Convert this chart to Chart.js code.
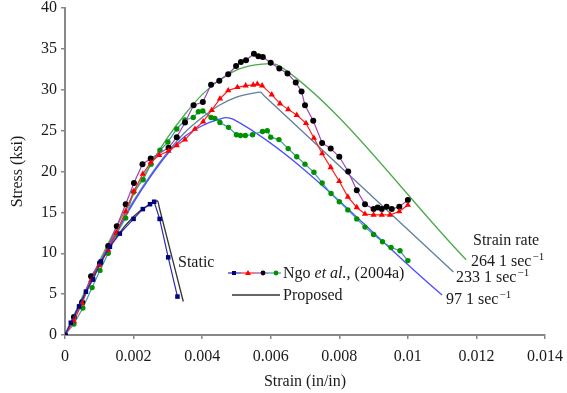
<!DOCTYPE html>
<html><head><meta charset="utf-8">
<script src="https://cdn.jsdelivr.net/npm/chart.js@4/dist/chart.umd.min.js"></script>
<style>html,body{margin:0;padding:0;background:#fff}canvas{display:block}</style>
</head><body>
<canvas id="c" width="567" height="393"></canvas>
<script>
// ---- tick labels ----
const xTickValues = [0, 0.002, 0.004, 0.006, 0.008, 0.01, 0.012, 0.014];
const xTickLabels = ['0', '0.002', '0.004', '0.006', '0.008', '0.01', '0.012', '0.014'];
const yTickValues = [0, 5, 10, 15, 20, 25, 30, 35, 40];
const yTickLabels = ['0', '5', '10', '15', '20', '25', '30', '35', '40'];

// ---- Ngo et al. (2004a) experimental ----
const staticExpStrain = [0,0.00017,0.00041,0.00061,0.00082,0.00105,0.00131,0.0016,0.002,0.00227,0.00248,0.0026,0.00276,0.00301,0.00328];
const staticExpStress = [0,1.5,3.5,5.3,6.8,9.0,10.8,12.4,14.2,15.4,16.0,16.3,14.2,9.5,4.7];

const exp97Strain = [0,0.00026,0.00052,0.00079,0.00102,0.00126,0.00151,0.00177,0.002,0.00228,0.00251,0.00277,0.003,0.00326,0.0035,0.00374,0.00389,0.00402,0.00426,0.00437,0.00452,0.00477,0.005,0.00512,0.00526,0.00547,0.00576,0.0059,0.006,0.00624,0.00651,0.00676,0.007,0.00726,0.0075,0.00776,0.008,0.00825,0.00851,0.00875,0.009,0.00926,0.00951,0.00977,0.01];
const exp97Stress = [0,1.35,3.3,5.8,7.9,10.0,12.4,14.3,17.5,19.0,20.9,22.6,23.6,25.2,26.3,26.6,27.3,27.4,26.6,26.5,26.0,25.4,24.5,24.4,24.4,24.5,24.9,25.0,24.2,23.9,22.8,21.8,20.9,19.9,18.6,17.3,16.3,15.3,14.2,13.2,12.3,11.4,10.7,10.3,9.1];

const exp233Strain = [0,0.00026,0.0005,0.00077,0.001,0.00126,0.0015,0.00177,0.00201,0.00227,0.0025,0.00275,0.00302,0.00326,0.0035,0.00379,0.00403,0.00428,0.00452,0.00476,0.00503,0.00527,0.00549,0.00561,0.00575,0.00603,0.00627,0.00651,0.00676,0.00703,0.00726,0.0075,0.00775,0.008,0.00825,0.00851,0.00875,0.009,0.00924,0.00948,0.00975,0.01];
const exp233Stress = [0,1.7,3.9,6.7,8.5,10.4,12.5,15.1,17.6,19.7,21.1,22.0,22.5,23.2,23.9,25.2,26.1,27.5,28.9,29.9,30.3,30.5,30.6,30.7,30.5,29.4,28.3,27.6,26.9,25.9,24.1,22.2,20.5,18.8,16.9,15.6,14.8,14.7,14.7,14.7,15.1,15.9];

const exp264Strain = [0,0.00026,0.0005,0.00076,0.00102,0.00126,0.00151,0.00177,0.00201,0.00226,0.0025,0.00302,0.00326,0.0035,0.00375,0.00402,0.00426,0.0045,0.00476,0.00499,0.00513,0.00528,0.00551,0.00564,0.00577,0.006,0.00625,0.00649,0.00673,0.0069,0.007,0.00724,0.0075,0.00775,0.008,0.00826,0.00851,0.00875,0.009,0.00912,0.00924,0.00938,0.00953,0.00975,0.01];
const exp264Stress = [0,2.2,4.0,7.2,8.8,10.9,13.3,16.0,18.6,20.9,21.6,22.9,24.2,26.0,28.1,28.5,30.6,31.1,31.9,32.9,33.4,33.6,34.4,34.1,34.0,33.3,32.6,32.0,30.9,29.8,28.1,26.2,23.5,22.8,21.8,20.0,17.7,16.0,15.4,15.6,15.4,15.7,15.4,15.7,16.5];

// ---- Proposed model ----
const propStaticStrain = [0,0.0005,0.001,0.0015,0.002,0.0024,0.0027,0.00275,0.00345];
const propStaticStress = [0,4.3,8.6,12.0,14.5,15.8,16.4,15.6,4.1];

const prop97Strain = [0,0.0005,0.001,0.0015,0.002,0.0025,0.003,0.0035,0.004,0.0045,0.0047,0.0049,0.011];
const prop97Stress = [0,4.3,8.5,12.5,16.2,19.4,22.2,24.3,25.6,26.4,26.6,26.4,4.9];

const prop233Strain = [0,0.0005,0.001,0.0015,0.002,0.0025,0.003,0.0035,0.004,0.0045,0.005,0.0055,0.0057,0.0058,0.01133];
const prop233Stress = [0,4.4,8.7,12.7,16.4,19.6,22.4,24.8,26.6,28.1,29.1,29.6,29.7,29.3,7.7];

const prop264Strain = [0,0.0005,0.001,0.0015,0.002,0.0025,0.003,0.0035,0.004,0.0045,0.005,0.0055,0.006,0.0063,0.0117];
const prop264Stress = [0,4.6,9.0,13.2,17.2,20.9,24.2,27.0,29.4,31.2,32.4,33.0,33.2,32.8,9.2];

const pts = (xs, ys) => xs.map((x, i) => ({x: x, y: ys[i]}));

const FONT = '"Liberation Serif", "Times New Roman", serif';
const TXT = '#1a1a1a';

function expSet(label, xs, ys, line, marker, style, r) {
  return {label, data: pts(xs, ys), showLine: true, borderColor: line, borderWidth: 1.2,
    backgroundColor: marker, pointBorderColor: marker, pointBackgroundColor: marker,
    pointStyle: style, pointRadius: r, pointBorderWidth: 0, tension: 0};
}
function propSet(label, xs, ys, color) {
  return {label, data: pts(xs, ys), showLine: true, borderColor: color, borderWidth: 1.3,
    pointRadius: 0, cubicInterpolationMode: 'monotone'};
}

const annot = {
  id: 'annot',
  afterDraw(chart) {
    const ctx = chart.ctx;
    ctx.save();
    ctx.fillStyle = TXT;
    ctx.textAlign = 'left';
    ctx.textBaseline = 'alphabetic';
    const reg = '16px ' + FONT, ital = 'italic 16px ' + FONT, sup = '11px ' + FONT;
    ctx.font = reg;
    ctx.fillText('Static', 178, 267);
    // legend line 1
    const ly = 273;
    const segs = [[228,241,'#2b2bb0'],[241,255,'#ff2020'],[255,268,'#a040c0'],[268,281,'#3aa0a0']];
    segs.forEach(s => { ctx.strokeStyle = s[2]; ctx.lineWidth = 1.2; ctx.beginPath(); ctx.moveTo(s[0], ly); ctx.lineTo(s[1], ly); ctx.stroke(); });
    ctx.fillStyle = '#000080'; ctx.fillRect(232, ly-2, 4, 4);
    ctx.fillStyle = '#ff0000'; ctx.beginPath(); ctx.moveTo(248, ly-3); ctx.lineTo(251, ly+2); ctx.lineTo(245, ly+2); ctx.closePath(); ctx.fill();
    ctx.fillStyle = '#000000'; ctx.beginPath(); ctx.arc(263, ly, 2.4, 0, Math.PI*2); ctx.fill();
    ctx.fillStyle = '#009000'; ctx.beginPath(); ctx.arc(276, ly, 2.4, 0, Math.PI*2); ctx.fill();
    ctx.fillStyle = TXT;
    let x = 283, by = ly + 5;
    ctx.font = reg; ctx.fillText('Ngo ', x, by); x += ctx.measureText('Ngo ').width;
    ctx.font = ital; ctx.fillText('et al.', x, by); x += ctx.measureText('et al.').width;
    ctx.font = reg; ctx.fillText(', (2004a)', x, by);
    // legend line 2
    ctx.strokeStyle = '#333333'; ctx.lineWidth = 1.3;
    ctx.beginPath(); ctx.moveTo(232, 295); ctx.lineTo(280, 295); ctx.stroke();
    ctx.fillText('Proposed', 283, 300);
    // strain rate labels
    ctx.fillText('Strain rate', 473, 245);
    const rateLabel = (txt, lx, lby) => {
      ctx.font = reg; ctx.fillText(txt, lx, lby);
      const w = ctx.measureText(txt).width;
      ctx.font = sup; ctx.fillText('\u22121', lx + w + 1, lby - 6);
    };
    rateLabel('264 1 sec', 471, 266);
    rateLabel('233 1 sec', 456, 282);
    rateLabel('97 1 sec', 446, 304);
    ctx.restore();
  }
};

const tickFont = {family: FONT, size: 16};

new Chart(document.getElementById('c'), {
  type: 'scatter',
  data: {
    datasets: [
      expSet('Static (Ngo)', staticExpStrain, staticExpStress, '#2b2bb0', '#000080', 'rect', 3.2),
      expSet('233 (Ngo)', exp233Strain, exp233Stress, '#ff2020', '#ff0000', 'triangle', 3.6),
      expSet('264 (Ngo)', exp264Strain, exp264Stress, '#a040c0', '#000000', 'circle', 3),
      expSet('97 (Ngo)', exp97Strain, exp97Stress, '#3aa0a0', '#009000', 'circle', 2.7),
      propSet('Static proposed', propStaticStrain, propStaticStress, '#333333'),
      propSet('97 proposed', prop97Strain, prop97Stress, '#4d4dff'),
      propSet('233 proposed', prop233Strain, prop233Stress, '#5f7f9f'),
      propSet('264 proposed', prop264Strain, prop264Stress, '#4caa4c')
    ]
  },
  options: {
    responsive: false,
    animation: false,
    devicePixelRatio: 1,
    layout: {padding: {top: 8, right: 22, left: 0, bottom: 0}},
    plugins: {legend: {display: false}, tooltip: {enabled: false}},
    scales: {
      x: {
        type: 'linear', min: 0, max: 0.014,
        afterBuildTicks: s => { s.ticks = xTickValues.map(v => ({value: v})); },
        ticks: {callback: (v, i) => xTickLabels[i], font: tickFont, color: TXT, padding: 8, maxRotation: 0, autoSkip: false},
        grid: {drawOnChartArea: false, drawTicks: true, tickLength: 4, color: '#888', lineWidth: 1.5},
        border: {color: '#888', width: 2},
        title: {display: true, text: 'Strain (in/in)', font: {family: FONT, size: 16}, color: TXT, padding: {top: 0, bottom: 2}},
        afterFit: s => { s.height = 58; s.paddingLeft = 0; s.paddingRight = 0; }
      },
      y: {
        type: 'linear', min: 0, max: 40,
        afterBuildTicks: s => { s.ticks = yTickValues.map(v => ({value: v})); },
        ticks: {callback: (v, i) => yTickLabels[i], font: tickFont, color: TXT, padding: 4, autoSkip: false},
        grid: {drawOnChartArea: false, drawTicks: true, tickLength: 4, color: '#888', lineWidth: 1.5},
        border: {color: '#888', width: 2},
        title: {display: true, text: 'Stress (ksi)', font: {family: FONT, size: 16}, color: TXT, padding: {top: 8, bottom: 0}},
        afterFit: s => { s.width = 65; s.paddingTop = 0; s.paddingBottom = 0; }
      }
    }
  },
  plugins: [annot]
});
</script>
</body></html>
